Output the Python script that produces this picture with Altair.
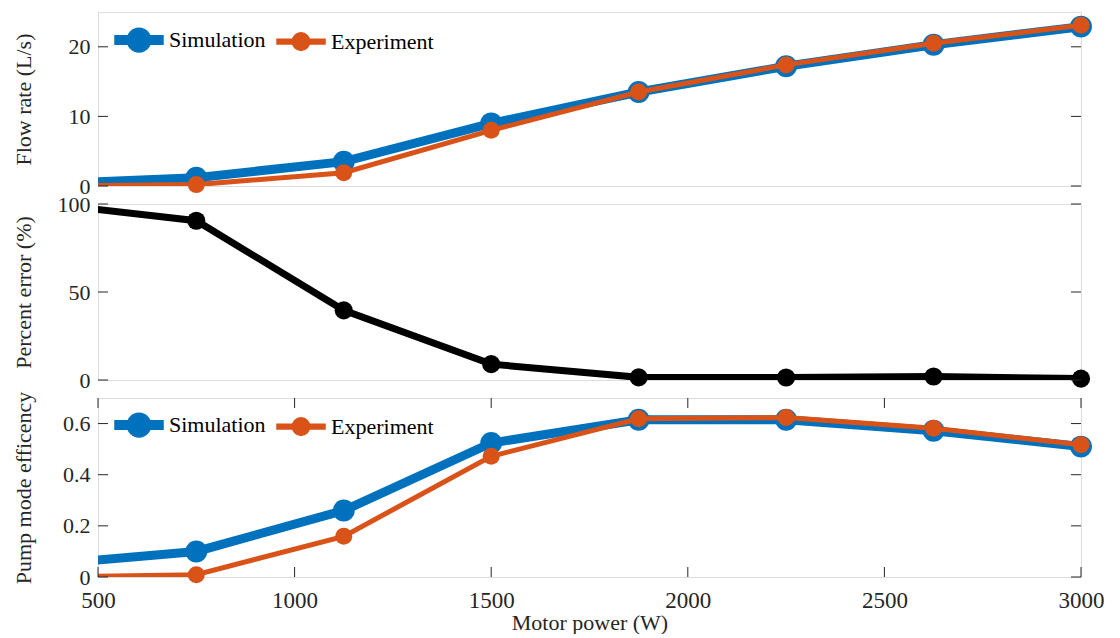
import altair as alt
import pandas as pd

# ---------------- data ----------------
power = [375, 750, 1125, 1500, 1875, 2250, 2625, 3000]
flow_sim = [0.3, 1.2, 3.5, 9.0, 13.5, 17.2, 20.3, 22.9]
flow_exp = [0.0, 0.2, 1.9, 8.0, 13.5, 17.4, 20.5, 23.1]
error_pct = [100.0, 90.5, 39.6, 9.0, 1.5, 1.4, 2.0, 0.8]
eff_sim = [0.05, 0.10, 0.26, 0.524, 0.615, 0.615, 0.572, 0.51]
eff_exp = [0.0, 0.009, 0.159, 0.472, 0.619, 0.624, 0.582, 0.517]

series = ["Simulation", "Experiment"]
x_ticks = [500, 1000, 1500, 2000, 2500, 3000]
flow_ticks = [0, 10, 20]
err_ticks = [0, 50, 100]
eff_ticks = [0, 0.2, 0.4, 0.6]

# ---------------- style ----------------
BLUE = "#0072BD"
ORANGE = "#D95319"
AX = "#262626"
FONT = "Liberation Serif"
W = 983
H1, H2, H3 = 174, 176, 179
TICK = 10

# legend glyphs: a filled bar (the line) plus a filled disc (the marker)
PATH_SIM = ("M-1,-0.177H1V0.177H-1Z"
            "M0.49,0A0.49,0.49,0,1,1,-0.49,0A0.49,0.49,0,1,1,0.49,0Z")
PATH_EXP = ("M-1,-0.094H1V0.094H-1Z"
            "M0.365,0A0.365,0.365,0,1,1,-0.365,0A0.365,0.365,0,1,1,0.365,0Z")
SYM_SIZE = 2304


def long_df(a, b):
    n = len(power)
    return pd.DataFrame({
        "power": power * 2,
        "val": a + b,
        "series": [series[0]] * n + [series[1]] * n,
    })


def y_enc(dom, ticks, title, H, fmt):
    return alt.Y(
        "val:Q",
        scale=alt.Scale(domain=dom, nice=False, zero=False),
        axis=alt.Axis(
            values=ticks, title=title, format=fmt, ticks=False, tickSize=0,
            domain=False, grid=False, labelFlush=False, labelPadding=8,
            labelFontSize=22, labelFont=FONT, labelColor=AX,
            titleFont=FONT, titleFontSize=22, titleColor=AX,
            titleFontWeight="normal", titleX=-68, titleY=H / 2,
            titleBaseline="alphabetic",
        ),
    )


xscale = alt.Scale(domain=[500, 3000], nice=False, zero=False)
x_noaxis = alt.X("power:Q", scale=xscale, axis=None)
x_axis = alt.X(
    "power:Q", scale=xscale,
    axis=alt.Axis(
        values=x_ticks, format="d", title="Motor power (W)", ticks=False,
        tickSize=0, domain=False, grid=False, labelFlush=False,
        labelPadding=12, labelFontSize=23, labelFont=FONT, labelColor=AX,
        titleFont=FONT, titleFontSize=22, titleColor=AX,
        titleFontWeight="normal", titlePadding=0,
    ),
)


def legend(lx, ly):
    return alt.Legend(
        orient="none", legendX=lx, legendY=ly, direction="horizontal",
        title=None, labelFont=FONT, labelFontSize=22, labelColor="black",
        labelOffset=5, columnPadding=8, padding=0, symbolOpacity=1,
        symbolStrokeWidth=1.5,
    )


def y_tick_layers(ticks, yenc):
    df = pd.DataFrame({"val": ticks})
    left = alt.Chart(df).mark_rule(color=AX, strokeWidth=1).encode(
        y=yenc, x=alt.value(0), x2=alt.value(TICK))
    right = alt.Chart(df).mark_rule(color=AX, strokeWidth=1).encode(
        y=yenc, x=alt.value(W - TICK), x2=alt.value(W))
    return [left, right]


def two_series_panel(df, yenc, xenc, lx, ly):
    leg = legend(lx, ly)
    cscale = alt.Scale(domain=series, range=[BLUE, ORANGE])
    stroke_enc = alt.Stroke("series:N", scale=cscale, legend=leg)
    fill_enc = alt.Fill("series:N", scale=cscale, legend=leg)
    base = alt.Chart(df)
    dummy = base.transform_filter("false").mark_point(filled=True, opacity=1).encode(
        fill=fill_enc,
        stroke=stroke_enc,
        shape=alt.Shape("series:N", scale=alt.Scale(domain=series, range=[PATH_SIM, PATH_EXP]), legend=leg),
        size=alt.Size("series:N", scale=alt.Scale(domain=series, range=[SYM_SIZE, SYM_SIZE]), legend=leg),
    )
    sim = base.transform_filter("datum.series === 'Simulation'")
    exp = base.transform_filter("datum.series === 'Experiment'")
    sim_line = sim.mark_line(strokeWidth=9, clip=True, strokeCap="butt").encode(
        x=xenc, y=yenc, stroke=stroke_enc)
    sim_pts = sim.transform_filter("datum.power >= 500").mark_point(
        filled=True, size=480, opacity=1, strokeWidth=0).encode(x=xenc, y=yenc, fill=fill_enc)
    exp_line = exp.mark_line(strokeWidth=5, clip=True, strokeCap="butt").encode(
        x=xenc, y=yenc, stroke=stroke_enc)
    exp_pts = exp.transform_filter("datum.power >= 500").mark_point(
        filled=True, size=290, opacity=1, strokeWidth=0).encode(x=xenc, y=yenc, fill=fill_enc)
    return [dummy, sim_line, sim_pts, exp_line, exp_pts]


# ---------- panel 1: flow rate ----------
y1 = y_enc([0, 25], flow_ticks, "Flow rate (L/s)", H1, "d")
p1 = alt.layer(
    *two_series_panel(long_df(flow_sim, flow_exp), y1, x_noaxis, 16, 3),
    *y_tick_layers(flow_ticks, y1),
).properties(width=W, height=H1)

# ---------- panel 2: percent error ----------
y2 = y_enc([0, 100], err_ticks, "Percent error (%)", H2, "d")
err_df = pd.DataFrame({"power": power, "val": error_pct})
err_line = alt.Chart(err_df).mark_line(color="black", strokeWidth=7, clip=True).encode(
    x=x_noaxis, y=y2)
err_pts = alt.Chart(err_df).transform_filter("datum.power >= 500").mark_point(
    filled=True, size=330, opacity=1, color="black", strokeWidth=0).encode(x=x_noaxis, y=y2)
p2 = alt.layer(err_line, err_pts, *y_tick_layers(err_ticks, y2)).properties(width=W, height=H2)

# ---------- panel 3: efficiency ----------
y3 = y_enc([0, 0.7], eff_ticks, "Pump mode efficency", H3, "~g")
xt_df = pd.DataFrame({"power": x_ticks})
xt_top = alt.Chart(xt_df).mark_rule(color=AX, strokeWidth=1).encode(
    x=x_axis, y=alt.value(0), y2=alt.value(TICK))
xt_bot = alt.Chart(xt_df).mark_rule(color=AX, strokeWidth=1).encode(
    x=x_axis, y=alt.value(H3 - TICK), y2=alt.value(H3))
p3 = alt.layer(
    *two_series_panel(long_df(eff_sim, eff_exp), y3, x_axis, 16, 2),
    *y_tick_layers(eff_ticks, y3), xt_top, xt_bot,
).properties(width=W, height=H3)

chans = dict(fill="independent", stroke="independent", shape="independent",
             size="independent")
chart = (
    alt.vconcat(p1, p2, p3, spacing=18, bounds="flush")
    .resolve_scale(**chans)
    .resolve_legend(**chans)
    .properties(padding={"left": 3, "top": 3, "right": 5, "bottom": 0})
    .configure_view(stroke=AX, strokeWidth=1)
    .configure(font=FONT)
)

chart.save("out.html", embed_options={"renderer": "svg", "actions": False})
